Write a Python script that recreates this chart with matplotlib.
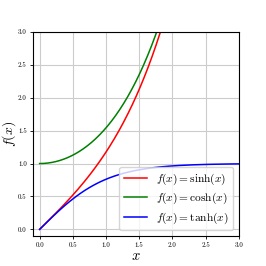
import numpy as np
import matplotlib
matplotlib.use("Agg")
import matplotlib.pyplot as plt

plt.rcParams['font.family'] = 'serif'
plt.rcParams['font.serif'] = ['cmr10', 'DejaVu Serif']
plt.rcParams['mathtext.fontset'] = 'cm'
plt.rcParams['axes.formatter.use_mathtext'] = True

x = np.linspace(0, 3, 300)
labels = [r'$f(x) = \sinh(x)$', r'$f(x) = \cosh(x)$', r'$f(x) = \tanh(x)$']
colors = ['red', 'green', 'blue']
funcs = [np.sinh, np.cosh, np.tanh]
ticks = [0.0, 0.5, 1.0, 1.5, 2.0, 2.5, 3.0]

fig = plt.figure(figsize=(2.66, 2.66), dpi=100)
ax = fig.add_axes([0.124, 0.113, 0.774, 0.767])
for f, c, l in zip(funcs, colors, labels):
    ax.plot(x, f(x), color=c, lw=1.1, label=l)
ax.set_xlim(-0.1, 3.0)
ax.set_ylim(-0.1, 3.0)
ax.set_xticks(ticks)
ax.set_yticks(ticks)
ax.set_xticklabels([f'{t:.1f}' for t in ticks])
ax.set_yticklabels([f'{t:.1f}' for t in ticks])
ax.tick_params(labelsize=5, length=2, width=0.6, pad=2.5)
ax.grid(True, color='#cccccc', lw=0.8)
for s in ax.spines.values():
    s.set_linewidth(0.8)
ax.set_xlabel(r'$x$', fontsize=10.5, labelpad=1)
ax.set_ylabel(r'$f(x)$', fontsize=10)
ax.yaxis.set_label_coords(-0.075, 0.5)
ax.legend(loc='lower right', fontsize=8.2, handlelength=2.0, borderpad=0.4,
          labelspacing=0.35, borderaxespad=0.5, handletextpad=0.8)
fig.savefig('out.png', dpi=100)
